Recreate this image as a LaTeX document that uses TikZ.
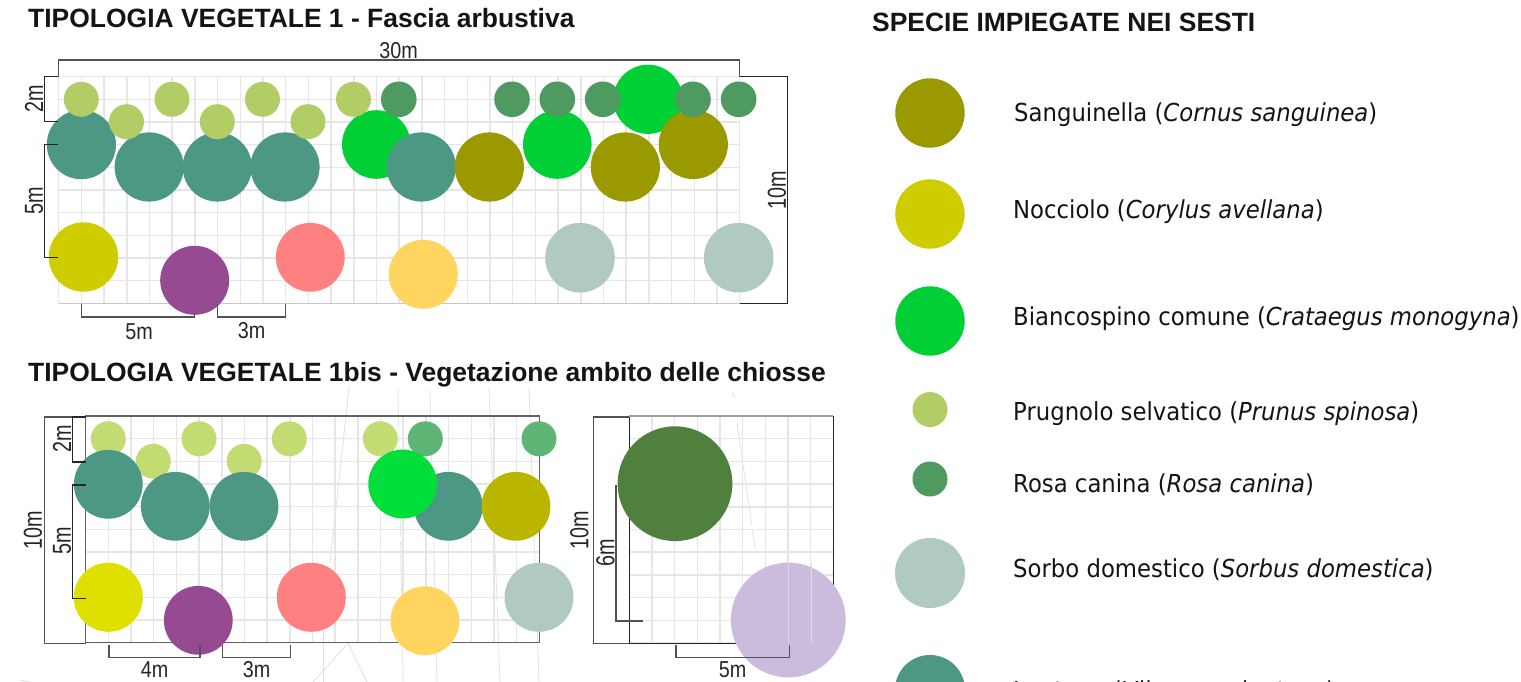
\documentclass[tikz,border=0pt]{standalone}
\usepackage{fontspec}
\setmainfont{Liberation Sans}
\newfontfamily\dimf[FakeStretch=0.86]{Liberation Sans}
\newfontfamily\dimr[FakeStretch=0.76]{Liberation Sans}
\newfontfamily\legf[FakeStretch=0.92]{DejaVu Sans}
\definecolor{cLight}{HTML}{B3CD66}
\definecolor{cDark}{HTML}{4E9A60}
\definecolor{cTeal}{HTML}{4D9884}
\definecolor{cBright}{HTML}{00CF35}
\definecolor{cOlive}{HTML}{9A9900}
\definecolor{cYellow}{HTML}{CFCD00}
\definecolor{cPurple}{HTML}{954A92}
\definecolor{cPink}{HTML}{FF8080}
\definecolor{cOrange}{HTML}{FFD55F}
\definecolor{cSorbo}{HTML}{B0C9C2}
\definecolor{cLightB}{HTML}{C3DC72}
\definecolor{cDarkB}{HTML}{5FB575}
\definecolor{cBrightB}{HTML}{00DE3A}
\definecolor{cOliveB}{HTML}{BAB600}
\definecolor{cYellowB}{HTML}{DFDF00}
\definecolor{cForest}{HTML}{4F803E}
\definecolor{cLilac}{HTML}{CBBBDD}
\definecolor{cGrid}{HTML}{E6E6E6}
\tikzset{
  x=1pt,y=-1pt,
  gridline/.style={draw=cGrid,line width=1.5pt},
  faint/.style={draw=black!12,line width=0.8pt},
  faintdash/.style={draw=black!10,line width=0.9pt,dash pattern=on 40pt off 4pt on 60pt off 5pt},
  dimline/.style={draw=black!68,line width=1.1pt},
  dimdark/.style={draw=black!85,line width=1.1pt},
  frame/.style={draw=black!62,line width=1.4pt},
  title/.style={anchor=west,inner sep=0pt,font=\fontsize{26.45}{30}\selectfont\bfseries,text=black!92},
  dimtext/.style={inner sep=0pt,font=\dimf\fontsize{23}{26}\selectfont,text=black!85},
  dimrot/.style={inner sep=0pt,rotate=90,font=\dimr\fontsize{26}{29}\selectfont,text=black!85},
  legtext/.style={anchor=west,inner sep=0pt,font=\legf\fontsize{24.75}{28}\selectfont,text=black!92},
}
\newcommand{\leaf}[4]{\fill[#1] (#2,#3) circle[radius=#4];}
\begin{document}
\begin{tikzpicture}
\useasboundingbox (0,0) rectangle (1521,682);
\clip (0,0) rectangle (1521,682);
\fill[white] (0,0) rectangle (1521,682);

% ---- grid, panel 1
\foreach \i in {0,...,30}{\draw[gridline] ({58.7+22.7*\i},76.7) -- ({58.7+22.7*\i},303.4);}
\foreach \j in {0,...,10}{\draw[gridline] (58.7,{76.7+22.67*\j}) -- (739.7,{76.7+22.67*\j});}
\draw[draw=black!22,line width=1.4pt] (58.7,303.4) -- (739.7,303.4);

% ---- faint background lines, lower panels
\draw[faint] (349,388) -- (330,563);
\draw[faint] (323,630) -- (323,682);
\draw[faint] (348,643) -- (313,682);
\draw[faint] (348,643) -- (367,682);
\draw[faint] (529,388) -- (539,682);
\draw[faint] (20,680) -- (30,682);
\draw[faintdash] (398,388) -- (403,682);
\draw[faintdash] (430,390) -- (437,682);
\draw[faintdash] (489,388) -- (500,682);
\draw[faintdash] (732,392) -- (735,398);
\draw[faintdash] (737,422) -- (755,548);

% ---- grid, panel 2
\foreach \i in {0,...,20}{\draw[gridline] ({85.7+22.68*\i},416) -- ({85.7+22.68*\i},642.7);}
\foreach \j in {0,...,10}{\draw[gridline] (85.7,{416+22.67*\j}) -- (539.3,{416+22.67*\j});}
\draw[frame] (85.7,642.7) -- (85.7,416) -- (539.3,416) -- (539.3,642.7) -- cycle;

% ---- grid, panel 3
\foreach \i in {0,...,9}{\draw[gridline] ({629.3+22.67*\i},416) -- ({629.3+22.67*\i},643.3);}
\foreach \j in {0,...,10}{\draw[gridline] (629.3,{416+22.7*\j}) -- (833.3,{416+22.7*\j});}
\draw[draw=black!85,line width=1.1pt] (629.3,416) -- (629.3,643.3) -- (833.3,643.3) -- (833.3,416);
\draw[draw=black!38,line width=1.6pt] (629.3,416) -- (833.3,416);

% ---- plants, panel 1
\leaf{cTeal}{81.4}{144.6}{34.6}
\leaf{cTeal}{149.2}{167}{34.6}
\leaf{cTeal}{217.3}{167}{34.6}
\leaf{cTeal}{285}{167}{34.6}
\leaf{cBright}{376.3}{144.5}{34.3}
\leaf{cTeal}{421.3}{167}{34.6}
\leaf{cBright}{557.3}{144.5}{34.3}
\leaf{cBright}{648}{99.3}{34.6}
\leaf{cOlive}{489.3}{167}{34.6}
\leaf{cOlive}{625.3}{167}{34.6}
\leaf{cOlive}{693.3}{144.5}{34.6}
\foreach \x/\y in {81.3/99.3,126.5/121.7,172/99.3,217.3/121.7,262.5/99.3,308/121.7,353.5/99.3}{\leaf{cLight}{\x}{\y}{17.5}}
\foreach \x/\y in {398.8/99.3,512/99.3,557.3/99.3,602.7/99.3,693/99.3,738.7/99.3}{\leaf{cDark}{\x}{\y}{17.8}}
\leaf{cYellow}{83.5}{257}{34.7}
\leaf{cPurple}{194.7}{280.3}{34.5}
\leaf{cPink}{310.3}{257.3}{34.4}
\leaf{cOrange}{423.3}{274.3}{34.5}
\leaf{cSorbo}{580}{257.7}{34.8}
\leaf{cSorbo}{738.7}{257.7}{34.8}

% ---- plants, panel 2
\foreach \x/\y in {108.3/438.8,153.3/461.3,199/438.8,244.2/461.3,289.3/438.8,380.3/438.8}{\leaf{cLightB}{\x}{\y}{17.5}}
\foreach \x in {425.3,539}{\leaf{cDarkB}{\x}{438.8}{17.5}}
\leaf{cTeal}{108.3}{484.3}{34.4}
\leaf{cTeal}{175.3}{506.3}{34.4}
\leaf{cTeal}{244}{506.3}{34.4}
\leaf{cTeal}{448.3}{506.3}{34.4}
\leaf{cBrightB}{402.7}{484}{34.4}
\leaf{cOliveB}{516}{506.3}{34.4}
\leaf{cYellowB}{108.3}{597.3}{34.5}
\leaf{cPurple}{198.3}{620.3}{34.4}
\leaf{cPink}{311.3}{597.3}{34.5}
\leaf{cOrange}{425}{620.7}{34.4}
\leaf{cSorbo}{539}{597.3}{34.5}

% ---- plants, panel 3
\leaf{cForest}{675}{483.7}{57.4}
\leaf{cLilac}{788.3}{620}{57.4}
\draw[draw=black!14,line width=0.9pt] (788.3,563) -- (788.3,643);
\draw[draw=black!12,line width=0.9pt] (811,563) -- (811,643);

% ---- dimension lines, panel 1
\draw[dimline] (58.7,76.7) -- (58.7,60) -- (739.3,60) -- (739.3,76.7);
\draw[dimdark] (58,76.7) -- (44.3,76.7) -- (44.3,121.7) -- (58,121.7);
\draw[dimdark] (58,144.3) -- (44.3,144.3) -- (44.3,257.7) -- (58,257.7);
\draw[dimline] (81.3,304) -- (81.3,317) -- (194.7,317) -- (194.7,313);
\draw[dimline] (217.5,304) -- (217.5,317) -- (285.3,317) -- (285.3,304);
\draw[dimdark] (739.7,76.7) -- (787.4,76.7) -- (787.4,303.4) -- (739.7,303.4);
\node[dimtext] (d30) at (398.5,51) {30m};
\node[dimrot] (d2a) at (34,99) {2m};
\node[dimrot] (d5a) at (34,201) {5m};
\node[dimtext] (d5b) at (139,332) {5m};
\node[dimtext] (d3a) at (251.5,331) {3m};
\node[dimrot] (d10a) at (777,190) {10m};

% ---- dimension lines, panel 2
\draw[dimline] (85.7,417) -- (44.3,417) -- (44.3,643.7) -- (85.7,643.7);
\draw[dimdark] (85.7,417) -- (72.4,417) -- (72.4,462) -- (85.7,462);
\draw[dimdark] (85.7,485) -- (72.4,485) -- (72.4,598.3) -- (85.7,598.3);
\draw[dimline] (109,645) -- (109,657.5) -- (200,657.5) -- (200,645);
\draw[dimline] (222.3,645) -- (222.3,657.5) -- (290.7,657.5) -- (290.7,645);
\node[dimrot] (d10b) at (33,530) {10m};
\node[dimrot] (d2b) at (62,439) {2m};
\node[dimrot] (d5c) at (62,541) {5m};
\node[dimtext] (d4) at (154.5,670) {4m};
\node[dimtext] (d3b) at (256.7,670) {3m};

% ---- dimension lines, panel 3
\draw[dimline] (629.3,417) -- (593.4,417) -- (593.4,643.7) -- (629.3,643.7);
\draw[dimline] (616,485) -- (616,621) -- (642.7,621);
\draw[dimline] (676,645) -- (676,657.5) -- (789.3,657.5) -- (789.3,645);
\node[dimrot] (d10c) at (579.5,530) {10m};
\node[dimrot] (d6) at (605.5,552.7) {6m};
\node[dimtext] (d5d) at (732.7,670) {5m};

% ---- titles
\node[title] (t1) at (28,18.5) {TIPOLOGIA VEGETALE 1 - Fascia arbustiva};
\node[title] (t2) at (28,375) {TIPOLOGIA VEGETALE 1bis - Vegetazione ambito delle chiosse};
\node[title] (t3) at (872,22) {SPECIE IMPIEGATE NEI SESTI};

% ---- legend
\leaf{cOlive}{930}{113}{34.7}
\leaf{cYellow}{930}{214}{34.7}
\leaf{cBright}{930}{321}{34.7}
\leaf{cLight}{930}{409.5}{17.5}
\leaf{cDark}{930}{479}{17.5}
\leaf{cSorbo}{930}{573}{35}
\leaf{cTeal}{930}{690}{35}
\node[legtext] (l1) at (1014,115) {Sanguinella (\textit{Cornus sanguinea})};
\node[legtext] (l2) at (1013,212) {Nocciolo (\textit{Corylus avellana})};
\node[legtext] (l3) at (1013,319) {Biancospino comune (\textit{Crataegus monogyna})};
\node[legtext] (l4) at (1013,414) {Prugnolo selvatico (\textit{Prunus spinosa})};
\node[legtext] (l5) at (1013,485) {Rosa canina (\textit{Rosa canina})};
\node[legtext] (l6) at (1013,570) {Sorbo domestico (\textit{Sorbus domestica})};
\node[legtext] (l7) at (1013,692) {Lantana (\textit{Viburnum lantana})};
\end{tikzpicture}
\end{document}
